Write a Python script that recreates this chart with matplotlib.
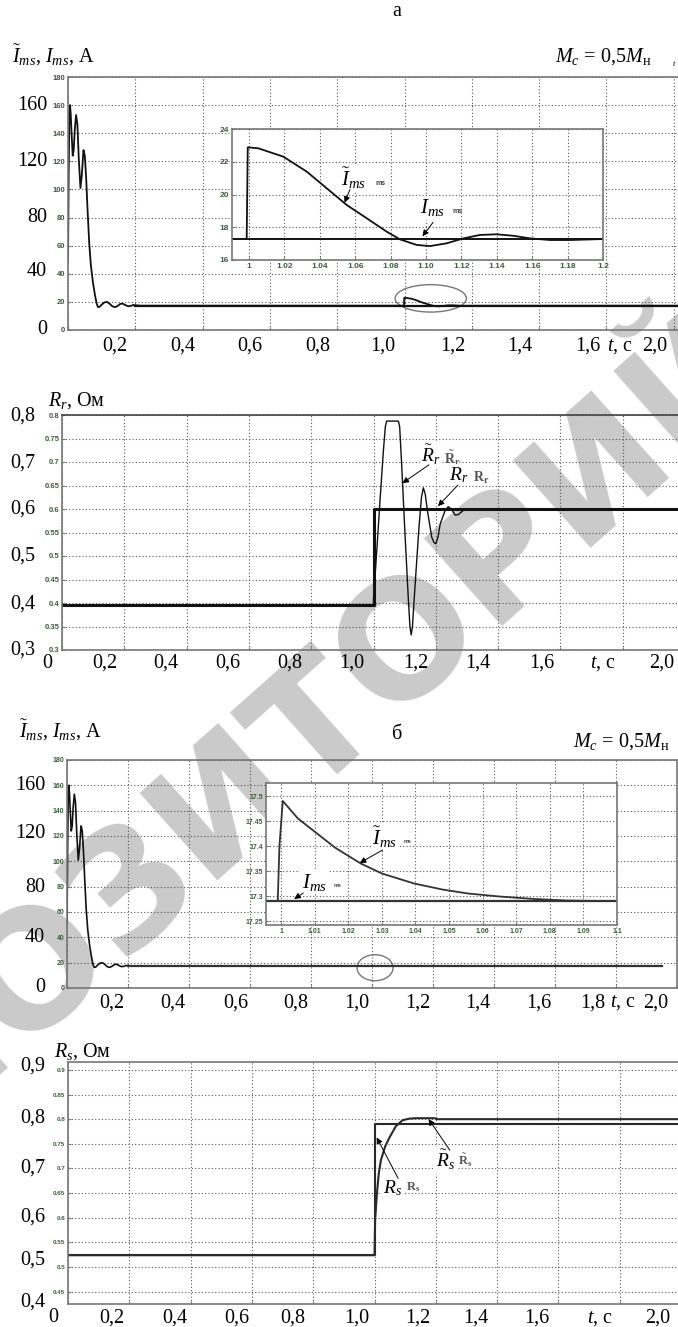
import matplotlib
matplotlib.use('Agg')
import matplotlib.pyplot as plt
from matplotlib.patches import Ellipse

plt.rcParams['font.family'] = ['Liberation Serif', 'DejaVu Serif']
plt.rcParams['mathtext.fontset'] = 'custom'
plt.rcParams['mathtext.rm'] = 'Liberation Serif'
plt.rcParams['mathtext.it'] = 'Liberation Serif:italic'
plt.rcParams['mathtext.bf'] = 'Liberation Serif:bold'

# ---------------- data ----------------
# start-up transient of the magnetizing current (both current plots)
t_start = [0.0, 0.002, 0.004, 0.006, 0.008, 0.011, 0.014, 0.017, 0.020, 0.024,
           0.028, 0.032, 0.037, 0.041, 0.046, 0.050, 0.054, 0.058, 0.063, 0.068,
           0.074, 0.080, 0.085, 0.089, 0.094, 0.100, 0.108, 0.116, 0.124, 0.132,
           0.140, 0.148, 0.155, 0.162, 0.170, 0.178, 0.186, 0.194, 0.202, 0.215]
i_start = [50, 110, 152, 160, 154, 138, 124, 128, 142, 153,
           146, 122, 101, 110, 128, 124, 108, 86, 62, 46,
           34, 25, 19, 16.3, 16.5, 18.0, 19.6, 20.0, 18.6, 16.8,
           16.3, 17.2, 18.5, 18.8, 17.8, 16.9, 17.1, 17.8, 17.6, 17.3]

# a: estimated current after the R_r step (zoomed window)
t_a_zoom = [0.9987, 0.9993, 1.0053, 1.0194, 1.0326, 1.0439, 1.0552, 1.0665,
            1.0778, 1.0853, 1.0947, 1.1023, 1.1117, 1.1211, 1.1305, 1.1399,
            1.1493, 1.1588, 1.1700, 1.1814, 1.2000]
i_a_est = [17.3, 22.88, 22.82, 22.31, 21.40, 20.38, 19.36, 18.55,
           17.73, 17.26, 16.92, 16.85, 17.02, 17.32, 17.53, 17.57,
           17.48, 17.32, 17.22, 17.22, 17.28]
i_a_ref = 17.3

# б: estimated current after the R_s step (zoomed window)
t_b_zoom = [0.999, 0.9995, 1.0005, 1.005, 1.0107, 1.016, 1.0237, 1.030,
            1.0396, 1.048, 1.0556, 1.065, 1.0755, 1.085, 1.095]
i_b_est = [17.29, 17.40, 17.49, 17.455, 17.425, 17.397, 17.365, 17.345,
           17.325, 17.313, 17.305, 17.299, 17.294, 17.291, 17.29]
i_b_ref = 17.29

# rotor resistance: estimate and true value
t_rr = [0.0, 0.9995, 1.000, 1.010, 1.021, 1.032, 1.038, 1.042, 1.080, 1.084,
        1.090, 1.101, 1.112, 1.117, 1.121, 1.125, 1.133, 1.146, 1.154, 1.160,
        1.166, 1.173, 1.187, 1.194, 1.200, 1.207, 1.214, 1.230, 1.240, 1.250,
        1.262, 1.272, 1.283, 1.294]
rr_est = [0.395, 0.395, 0.410, 0.506, 0.619, 0.726, 0.775, 0.787, 0.787, 0.775,
          0.700, 0.548, 0.406, 0.350, 0.332, 0.350, 0.433, 0.561, 0.625, 0.645,
          0.632, 0.597, 0.540, 0.529, 0.526, 0.540, 0.568, 0.597, 0.605, 0.600,
          0.587, 0.588, 0.594, 0.600]
rr_true = [0.395, 0.600]   # before / after the step

# stator resistance: estimate and true value
t_rs = [0.0, 1.0, 1.002, 1.008, 1.014, 1.021, 1.035, 1.049, 1.070, 1.092,
        1.113, 1.134, 1.195, 1.205, 2.0]
rs_est = [0.524, 0.524, 0.595, 0.650, 0.690, 0.717, 0.745, 0.763, 0.786, 0.798,
          0.801, 0.802, 0.802, 0.800, 0.800]
rs_true = [0.524, 0.790]
t_step = 1.0

# typed-over axis labels
ylab_i = ['160', '120', '80', '40', '0']
ylab_rr = ['0,8', '0,7', '0,6', '0,5', '0,4', '0,3']
ylab_rs = ['0,9', '0,8', '0,7', '0,6', '0,5', '0,4']
xlab_a = ['0,2', '0,4', '0,6', '0,8', '1,0', '1,2', '1,4', '1,6', '$t$, с', '2,0']
xlab_rr = ['0', '0,2', '0,4', '0,6', '0,8', '1,0', '1,2', '1,4', '1,6', '$t$, с', '2,0']
xlab_b = ['0,2', '0,4', '0,6', '0,8', '1,0', '1,2', '1,4', '1,6', '1,8', '$t$, с', '2,0']

# ---------------- figure ----------------
W, H = 678, 1327
fig = plt.figure(figsize=(W / 100, H / 100), dpi=100)
fig.patch.set_facecolor('white')

ML_COL = '#3b5e3b'
LINE = '#111111'


def box(l, t, r, b):
    return [l / W, 1 - b / H, (r - l) / W, (b - t) / H]


def put(x, y, s, **kw):
    kw.setdefault('fontsize', 14.5)
    kw.setdefault('va', 'center')
    fig.text(x / W, 1 - y / H, s, **kw)


def matlab(ax, xlim, ylim, xt, yt, yl, xl=None, fs=5.5, face='none'):
    ax.set_facecolor(face)
    ax.set_xlim(xlim)
    ax.set_ylim(ylim)
    ax.set_xticks(xt)
    ax.set_yticks(yt)
    ax.set_yticklabels(yl, fontweight='bold', fontfamily='Liberation Sans')
    if xl is None:
        ax.set_xticklabels([])
    else:
        ax.set_xticklabels(xl, fontweight='bold', fontfamily='Liberation Sans')
    ax.grid(True, ls=(0, (1, 2)), color='#555555', lw=0.8)
    for s in ax.spines.values():
        s.set_color('#777777')
        s.set_linewidth(1.2)
    ax.tick_params(direction='in', length=2, color='#777777', labelsize=fs,
                   labelcolor=ML_COL, pad=2)


def arrow(ax, tip, tail):
    ax.annotate('', xy=tip, xytext=tail,
                arrowprops=dict(arrowstyle='-|>', color='k', lw=0.7,
                                mutation_scale=9, shrinkA=0, shrinkB=0))


wbox = dict(fc='white', ec='none', pad=1)
ticks_t = [i * 0.2 for i in range(11)]

# ===== a: current, R_r step =====
ax1 = fig.add_axes(box(68, 77, 741, 330))
matlab(ax1, (0, 2), (0, 180), ticks_t, range(0, 181, 20),
       [str(v) for v in range(0, 181, 20)])
ax1.plot(t_start + t_a_zoom + [2.0], i_start + i_a_est + [i_a_ref], color=LINE, lw=1.3)
ax1.plot([0.2, 2.0], [i_a_ref, i_a_ref], color=LINE, lw=1.6)
ax1.add_patch(Ellipse((1.078, 22.5), 0.212, 19.5, fill=False, ec='#777777', lw=1))

in1 = fig.add_axes(box(232, 129, 603, 260))
xt1 = [1 + 0.02 * k for k in range(11)]
matlab(in1, (0.9904, 1.2), (16, 24), xt1, [16, 18, 20, 22, 24],
       ['16', '18', '20', '22', '24'],
       ['1'] + ['%.2f' % v for v in xt1[1:-1]] + ['1.2'], fs=6, face='white')
in1.plot([0.9904, 1.2], [i_a_ref, i_a_ref], color=LINE, lw=1.4)
in1.plot(t_a_zoom, i_a_est, color=LINE, lw=1.3)
in1.text(1.0588, 21.0, r'$\tilde{I}_{ms}$', fontsize=15, ha='center', va='center', bbox=wbox)
in1.text(1.0712, 20.7, 'ms', fontsize=5, fontweight='bold', color='#444444',
         family='Liberation Sans', va='center')
arrow(in1, (1.054, 19.5), (1.057, 20.3))
in1.text(1.1034, 19.2, r'$I_{ms}$', fontsize=15, ha='center', va='center', bbox=wbox)
in1.text(1.1147, 18.95, 'ms', fontsize=5, fontweight='bold', color='#444444',
         family='Liberation Sans', va='center')
arrow(in1, (1.098, 17.45), (1.104, 18.3))

put(397, 12, 'а', ha='center')
put(12, 55, r'$\tilde{I}_{ms}$, $I_{ms}$, А')
put(555, 57, r'$M_c$ = 0,5$M_{\mathrm{н}}$')
put(672, 63, '$t$', fontsize=6)
for s, y in zip(ylab_i, [106, 162, 217, 272, 330]):
    put(47, y, s, ha='right')
for s, x in zip(xlab_a, [115, 183, 250, 318, 383, 453, 520, 588, 620, 655]):
    put(x, 346, s, ha='center')

# ===== R_r =====
ax2 = fig.add_axes(box(62, 415, 685, 650))
yt2 = [0.3 + 0.05 * k for k in range(11)]
matlab(ax2, (0, 2), (0.3, 0.8), ticks_t, yt2,
       ['%g' % round(v, 2) for v in yt2])
ax2.spines['top'].set_color('#444444')
ax2.plot([0, t_step, t_step, 2.0], [rr_true[0], rr_true[0], rr_true[1], rr_true[1]],
         color=LINE, lw=2.2)
ax2.plot(t_rr, rr_est, color=LINE, lw=1.0)
ax2.text(1.1846, 0.715, r'$\tilde{R}_r$', fontsize=14, ha='center', va='center', bbox=wbox)
ax2.text(1.252, 0.708, r'$\tilde{\mathbf{R}}_{\mathbf{r}}$', fontsize=10,
         color='#555555', ha='center', va='center')
arrow(ax2, (1.093, 0.655), (1.178, 0.694))
ax2.text(1.2745, 0.672, r'$R_r$', fontsize=14, ha='center', va='center', bbox=wbox)
ax2.text(1.345, 0.666, r'$\mathbf{R}_{\mathbf{r}}$', fontsize=10,
         color='#555555', ha='center', va='center')
arrow(ax2, (1.207, 0.606), (1.271, 0.651))

put(48, 401, r'$R_r$, Ом')
for s, y in zip(ylab_rr, [416, 463, 509, 556, 604, 650]):
    put(35, y, s, ha='right')
for s, x in zip(xlab_rr, [47, 105, 166, 228, 290, 352, 416, 478, 542, 603, 662]):
    put(x, 663, s, ha='center')

# ===== б: current, R_s step =====
ax3 = fig.add_axes(box(67, 760, 677, 988))
matlab(ax3, (0, 2), (0, 180), ticks_t, range(0, 181, 20),
       [str(v) for v in range(0, 181, 20)], fs=5)
ax3.plot(t_start + t_b_zoom + [1.95], i_start + i_b_est + [i_b_ref], color=LINE, lw=1.2)
ax3.plot([0.2, 1.95], [i_b_ref, i_b_ref], color='#333333', lw=1.6)
ax3.add_patch(Ellipse((1.01, 16.0), 0.118, 20.5, fill=False, ec='#777777', lw=1))

in2 = fig.add_axes(box(266, 783, 617, 925))
xt2 = [1 + 0.01 * k for k in range(11)]
yt_in2 = [17.25, 17.3, 17.35, 17.4, 17.45, 17.5]
matlab(in2, (0.9955, 1.1), (17.242, 17.526), xt2, yt_in2,
       ['%g' % v for v in yt_in2],
       ['1'] + ['%.2f' % v for v in xt2[1:-1]] + ['1.1'], fs=5, face='white')
in2.plot([0.9955, 1.1], [i_b_ref, i_b_ref], color='#333333', lw=1.6)
in2.plot(t_b_zoom, i_b_est, color='#333333', lw=1.3)
in2.text(1.0308, 17.418, r'$\tilde{I}_{ms}$', fontsize=15, ha='center', va='center', bbox=wbox)
in2.text(1.0366, 17.41, 'ms', fontsize=4, fontweight='bold', color='#444444',
         family='Liberation Sans', va='center')
arrow(in2, (1.0234, 17.366), (1.0302, 17.392))
in2.text(1.0099, 17.328, r'$I_{ms}$', fontsize=15, ha='center', va='center', bbox=wbox)
in2.text(1.0155, 17.322, 'ms', fontsize=4, fontweight='bold', color='#444444',
         family='Liberation Sans', va='center')
arrow(in2, (1.0039, 17.294), (1.0066, 17.306))

put(397, 735, 'б', ha='center')
put(19, 730, r'$\tilde{I}_{ms}$, $I_{ms}$, А')
put(573, 742, r'$M_c$ = 0,5$M_{\mathrm{н}}$',
    bbox=dict(fc='white', ec='none', pad=3))
for s, y in zip(ylab_i, [785, 834, 887, 938, 988]):
    put(45, y, s, ha='right')
for s, x in zip(xlab_b, [112, 173, 236, 296, 357, 418, 478, 539, 593, 623, 656]):
    put(x, 1003, s, ha='center')

# ===== R_s =====
ax4 = fig.add_axes(box(68, 1062, 681, 1304))
yt4 = [0.45 + 0.05 * k for k in range(10)]
matlab(ax4, (0, 2), (0.425, 0.916), ticks_t, yt4,
       ['%g' % round(v, 2) for v in yt4], fs=4.5)
ax4.plot([0, t_step, t_step, 2.0], [rs_true[0], rs_true[0], rs_true[1], rs_true[1]],
         color='#2a2a2a', lw=1.5)
ax4.plot(t_rs, rs_est, color='#2a2a2a', lw=1.5)
ax4.text(1.233, 0.717, r'$\tilde{R}_s$', fontsize=14, ha='center', va='center', bbox=wbox)
ax4.text(1.295, 0.717, r'$\tilde{\mathbf{R}}_{\mathbf{s}}$', fontsize=9,
         color='#555555', ha='center', va='center')
arrow(ax4, (1.1765, 0.800), (1.246, 0.737))
ax4.text(1.057, 0.66, r'$R_s$', fontsize=14, ha='center', va='center', bbox=wbox)
ax4.text(1.126, 0.662, r'$\mathbf{R}_{\mathbf{s}}$', fontsize=9,
         color='#555555', ha='center', va='center')
arrow(ax4, (1.007, 0.763), (1.077, 0.68))

put(54, 1052, r'$R_s$, Ом')
for s, y in zip(ylab_rs, [1066, 1118, 1168, 1217, 1260, 1302]):
    put(45, y, s, ha='right')
for s, x in zip(xlab_rr, [53, 112, 175, 237, 293, 357, 418, 476, 537, 600, 658]):
    put(x, 1318, s, ha='center')

# repository watermark, behind the plots
fig.text(232 / W, 1 - 795 / H, 'РЕПОЗИТОРИЙ', family='DejaVu Sans',
         fontweight='bold', fontsize=116, color='#cacaca', rotation=41.7,
         rotation_mode='anchor', ha='center', va='center', zorder=-1)

fig.savefig('out.png', dpi=100)
